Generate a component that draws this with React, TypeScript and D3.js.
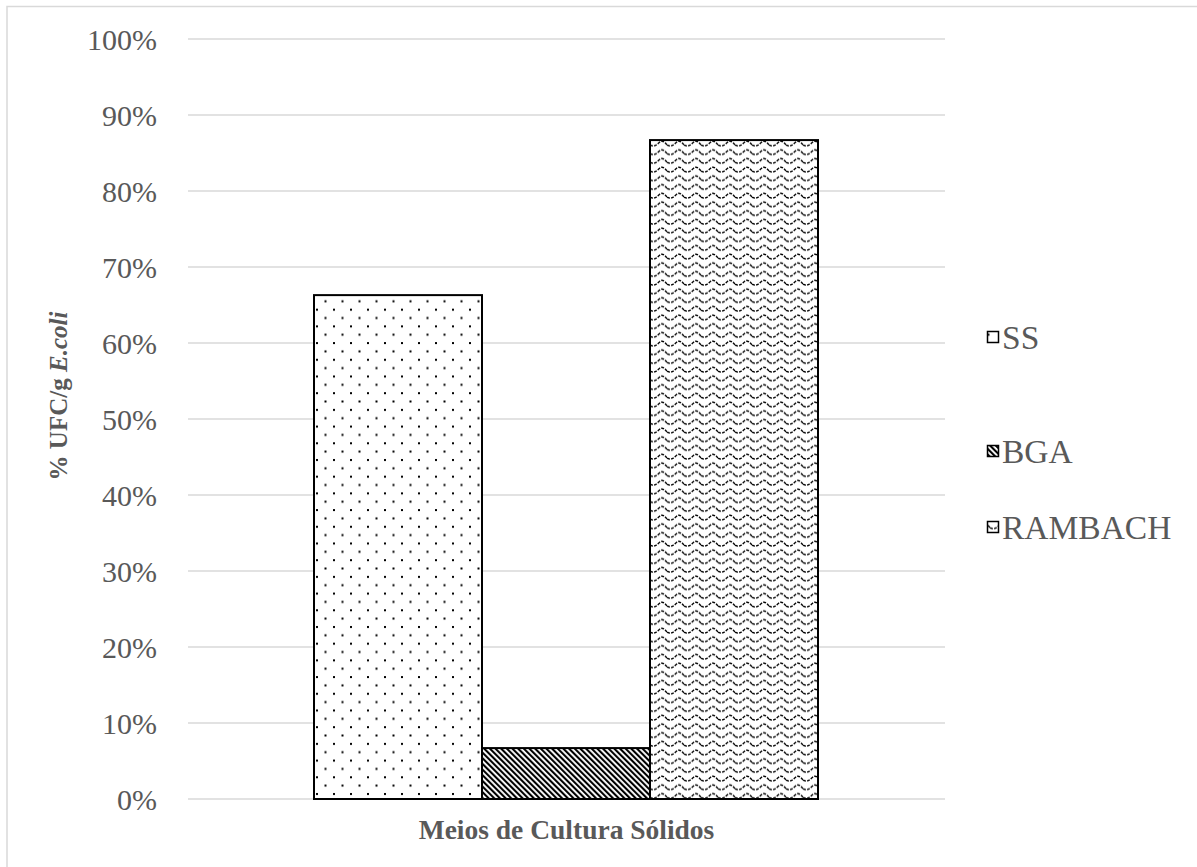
import React from "react";
import * as d3 from "d3";

const seriesNames = ["SS", "BGA", "RAMBACH"];
const seriesValues = [0.663, 0.067, 0.867];
const category = "Meios de Cultura Sólidos";
const yTicks = [0, 0.1, 0.2, 0.3, 0.4, 0.5, 0.6, 0.7, 0.8, 0.9, 1.0];
const patternIds = ["patSS", "patBGA", "patRAM"];

const W = 1197;
const H = 867;
const plot = { left: 188, right: 945, top: 39, bottom: 799 };
const FONT = "Liberation Serif";
const GRAY = "#595959";

export default function App() {
  const y = d3.scaleLinear().domain([0, 1]).range([plot.bottom, plot.top]);
  const groupStart = plot.left + 126;
  const groupWidth = 504;
  const xs = d3.scaleBand<string>().domain(seriesNames).range([groupStart, groupStart + groupWidth]);
  const fmt = d3.format(".0%");
  const cx = (plot.left + plot.right) / 2;
  const legendY = [337, 451, 527];
  const ts = { fontFamily: FONT };

  return (
    <svg width={W} height={H} style={{ position: "absolute", left: 0, top: 0, background: "#fff" }}>
      <defs>
        <pattern id="patSS" patternUnits="userSpaceOnUse" width={17} height={16.7} x={314} y={290}>
          <rect width={17} height={16.7} fill="#fff" />
          <rect x={2} y={2} width={2} height={2} fill="#000" />
          <rect x={10.5} y={10.3} width={2} height={2} fill="#000" />
        </pattern>
        <pattern id="patBGA" patternUnits="userSpaceOnUse" width={4} height={10} patternTransform="rotate(-45)">
          <rect width={4} height={10} fill="#fff" />
          <rect x={0} y={0} width={2.1} height={10} fill="#000" />
        </pattern>
        <pattern id="patRAM" patternUnits="userSpaceOnUse" width={17} height={8.7} x={650} y={139}>
          <rect width={17} height={8.7} fill="#fff" />
          <path d="M0,6 Q4.25,8.5 8.5,4 T17,6" fill="none" stroke="#000" strokeWidth={1.4} strokeDasharray="3,1.2" />
        </pattern>
      </defs>
      <rect x={7} y={6.5} width={W + 10} height={H + 10} fill="#fff" stroke="#d9d9d9" strokeWidth={1.5} />
      {yTicks.map((t) => (
        <g key={t}>
          <line x1={plot.left} x2={plot.right} y1={y(t)} y2={y(t)} stroke="#d9d9d9" strokeWidth={1.5} />
          <text x={157} y={y(t)} dy="0.35em" textAnchor="end" style={ts} fontSize={30} fill={GRAY}>
            {fmt(t)}
          </text>
        </g>
      ))}
      {seriesNames.map((s, i) => (
        <rect
          key={s}
          x={xs(s)}
          y={y(seriesValues[i])}
          width={xs.bandwidth()}
          height={y(0) - y(seriesValues[i])}
          fill={`url(#${patternIds[i]})`}
          stroke="#000"
          strokeWidth={2}
        />
      ))}
      <text x={cx} y={839} textAnchor="middle" style={ts} fontSize={27.5} fontWeight="bold" fill={GRAY}>
        {category}
      </text>
      <text transform={`translate(67,396) rotate(-90)`} textAnchor="middle" style={ts} fontSize={25} fontWeight="bold" fill={GRAY}>
        % UFC/g <tspan fontStyle="italic">E.coli</tspan>
      </text>
      {seriesNames.map((s, i) => (
        <g key={s}>
          <rect x={987.5} y={legendY[i] - 5.5} width={11} height={11} fill={`url(#${patternIds[i]})`} stroke="#000" strokeWidth={1.5} />
          <text x={1002} y={legendY[i]} dy="0.35em" style={ts} fontSize={33.5} fill={GRAY}>
            {s}
          </text>
        </g>
      ))}
    </svg>
  );
}
